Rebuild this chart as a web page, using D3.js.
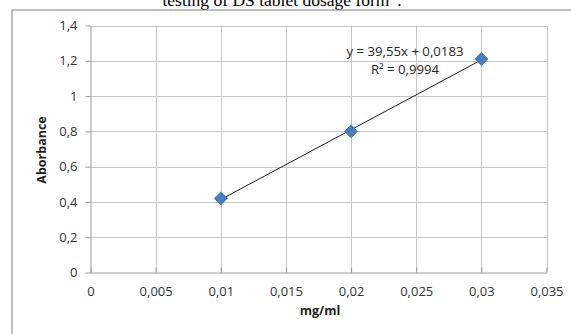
<!DOCTYPE html>
<html>
<head>
<meta charset="utf-8">
<script src="https://cdn.jsdelivr.net/npm/d3@7"></script>
<style>
html,body{margin:0;padding:0;background:#fff;overflow:hidden;}
svg{display:block;}
</style>
</head>
<body>
<svg id="chart" width="571" height="334"></svg>
<script>
const title = "testing of DS tablet dosage form\u201d.";
const concentration = [0.01, 0.02, 0.03];
const absorbance = [0.42, 0.80, 1.21];
const xTicks = [0, 0.005, 0.01, 0.015, 0.02, 0.025, 0.03, 0.035];
const xTickLabels = ["0", "0,005", "0,01", "0,015", "0,02", "0,025", "0,03", "0,035"];
const yTicks = [0, 0.2, 0.4, 0.6, 0.8, 1.0, 1.2, 1.4];
const yTickLabels = ["0", "0,2", "0,4", "0,6", "0,8", "1", "1,2", "1,4"];
const trendCoef = [39.55, 0.0183];
const equationLines = ["y = 39,55x + 0,0183", "R\u00b2 = 0,9994"];
const xTitle = "mg/ml";
const yTitle = "Aborbance";

const svg = d3.select("#chart");
const font = "'Open Sans', sans-serif";

// title (partially cut at top, as in the source)
svg.append("text").attr("x", 282).attr("y", 6).attr("text-anchor", "middle")
  .attr("font-family", "'Liberation Serif', 'Times New Roman', serif").attr("font-size", 17.5)
  .attr("fill", "#000").text(title);

// outer frame
svg.append("rect").attr("x", 12).attr("y", 10).attr("width", 600).attr("height", 400)
  .attr("fill", "none").attr("stroke", "#7f7f7f").attr("stroke-width", 1);

const x = d3.scaleLinear().domain([0, 0.035]).range([90.5, 546.5]);
const y = d3.scaleLinear().domain([0, 1.4]).range([272.5, 25.5]);

// gridlines
svg.append("g").selectAll("line").data(yTicks.slice(1)).join("line")
  .attr("x1", x(0)).attr("x2", x(0.035)).attr("y1", d => Math.round(y(d)) + 0.5).attr("y2", d => Math.round(y(d)) + 0.5)
  .attr("stroke", "#c6c6c6").attr("stroke-width", 1);
svg.append("g").selectAll("line").data(xTicks.slice(1)).join("line")
  .attr("x1", d => Math.round(x(d)) + 0.5).attr("x2", d => Math.round(x(d)) + 0.5).attr("y1", y(1.4)).attr("y2", y(0))
  .attr("stroke", "#c6c6c6").attr("stroke-width", 1);

// axes
const xAxis = d3.axisBottom(x).tickValues(xTicks).tickFormat((d, i) => xTickLabels[i]).tickSize(5).tickSizeOuter(0).tickPadding(9);
const gx = svg.append("g").attr("transform", `translate(0,${y(0)})`).call(xAxis);
const yAxis = d3.axisLeft(y).tickValues(yTicks).tickFormat((d, i) => yTickLabels[i]).tickSize(5).tickSizeOuter(0).tickPadding(8);
const gy = svg.append("g").attr("transform", `translate(${x(0)},0)`).call(yAxis);
[gx, gy].forEach(g => {
  g.select(".domain").attr("stroke", "#9a9a9a");
  g.selectAll(".tick line").attr("stroke", "#9a9a9a");
  g.selectAll(".tick text").attr("font-family", font).attr("font-size", 13).attr("fill", "#333");
});
gx.selectAll(".tick line").attr("transform", "translate(0,-5)");

// axis titles
svg.append("text").attr("x", 320).attr("y", 315).attr("text-anchor", "middle")
  .attr("font-family", font).attr("font-size", 12.5).attr("font-weight", "bold").attr("fill", "#1f1f1f").text(xTitle);
svg.append("text").attr("transform", "translate(46,150) rotate(-90)").attr("text-anchor", "middle")
  .attr("font-family", font).attr("font-size", 12.5).attr("font-weight", "bold").attr("fill", "#1f1f1f").text(yTitle);

// trendline
const xMin = d3.min(concentration), xMax = d3.max(concentration);
svg.append("line")
  .attr("x1", x(xMin)).attr("y1", y(trendCoef[0] * xMin + trendCoef[1]))
  .attr("x2", x(xMax)).attr("y2", y(trendCoef[0] * xMax + trendCoef[1]))
  .attr("stroke", "#1a1a1a").attr("stroke-width", 1);

// markers
svg.append("g").selectAll("path").data(concentration.map((c, i) => [c, absorbance[i]])).join("path")
  .attr("transform", d => `translate(${x(d[0])},${y(d[1])})`)
  .attr("d", "M0,-6.5L6.5,0L0,6.5L-6.5,0Z")
  .attr("fill", "#4a7ebb").attr("stroke", "#3d6da6").attr("stroke-width", 0.8);

// equation
svg.append("g").selectAll("text").data(equationLines).join("text")
  .attr("x", 405).attr("y", (d, i) => 56 + i * 17.5).attr("text-anchor", "middle")
  .attr("font-family", font).attr("font-size", 13.2).attr("fill", "#262626").text(d => d);
</script>
</body>
</html>
